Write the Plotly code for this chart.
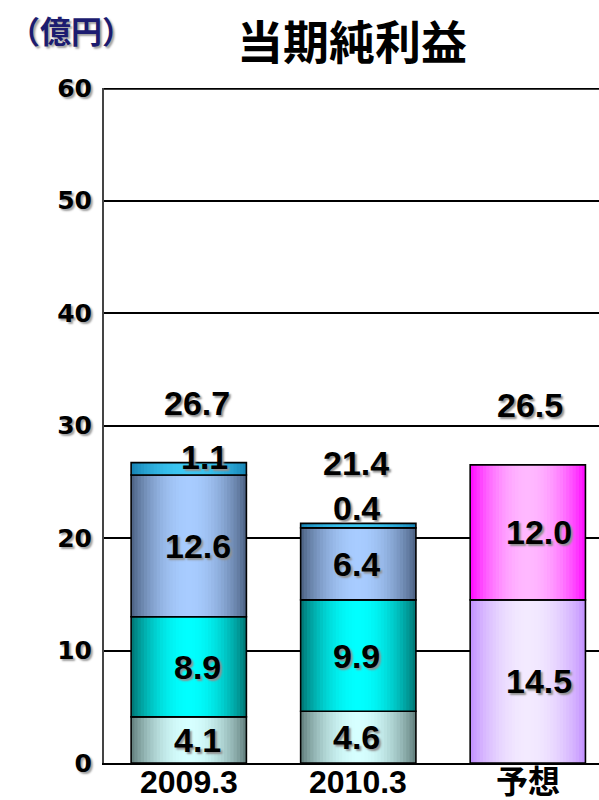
import math
import plotly.graph_objects as go

# ---- data ----
categories = ["2009.3", "2010.3", "予想"]
seg_a = [4.1, 4.6, None]      # bottom segment (actual)
seg_b = [8.9, 9.9, None]
seg_c = [12.6, 6.4, None]
seg_d = [1.1, 0.4, None]      # thin top segment (actual)
fc_lower = [None, None, 14.5]  # forecast lower
fc_upper = [None, None, 12.0]  # forecast upper
totals = [26.7, 21.4, 26.5]
total_labels = ["26.7", "21.4", "26.5"]

# ---- styles ----
segments = [
    (seg_a, "#5c7876", "#d6ffff"),
    (seg_b, "#006e6c", "#00ffff"),
    (seg_c, "#475c7c", "#a8ccff"),
    (seg_d, "#147fb0", "#3cc8f4"),
    (fc_lower, "#c08cff", "#f3eaff"),
    (fc_upper, "#ff00ff", "#ffb8ff"),
]

def hex2rgb(h):
    h = h.lstrip("#")
    return [int(h[i:i + 2], 16) for i in (0, 2, 4)]

def lerp(c1, c2, t):
    a, b = hex2rgb(c1), hex2rgb(c2)
    return "rgb(%d,%d,%d)" % tuple(round(a[i] + (b[i] - a[i]) * t) for i in range(3))

fig = go.Figure()
bar_w = 0.68
K = 36
strip_w = bar_w / K
over = 1.8

base_actual = [0.0, 0.0, 0.0]
base_fc = [0.0, 0.0, 0.0]
label_ann = []
for vals, edge, center in segments:
    is_fc = vals is fc_lower or vals is fc_upper
    cum = base_fc if is_fc else base_actual
    idx = [i for i, v in enumerate(vals) if v is not None]
    ys = [vals[i] for i in idx]
    bases = [cum[i] for i in idx]
    for k in range(K):
        u = (k + 0.5) / K
        t = math.sin(math.pi * u) ** 0.8
        left = -bar_w / 2 + k * strip_w
        w = min(strip_w * over, bar_w / 2 - left)
        fig.add_bar(
            x=[i + left + w / 2 for i in idx],
            y=ys, base=bases, width=w,
            marker=dict(color=lerp(edge, center, t), line=dict(width=0)),
            hoverinfo="skip", showlegend=False,
        )
    fig.add_bar(
        x=idx, y=ys, base=bases, width=bar_w,
        marker=dict(color="rgba(0,0,0,0)", line=dict(color="black", width=1.6)),
        hoverinfo="skip", showlegend=False,
    )
    for j, i in enumerate(idx):
        label_ann.append((i, bases[j], ys[j]))
        cum[i] += ys[j]

lab_font = dict(family="Liberation Sans, Arial, sans-serif", size=34, color="black",
                weight="bold", shadow="2px 2px 2px #909090")

# per-category horizontal shift of in-bar labels (px)
xshift_cat = [9, -2, 11]
annotations = []
for i, b, v in label_ann:
    if v < 2:
        y = b + v + 0.5 if i == 0 else b + v + 1.4
        xs = 16 if i == 0 else -2
    else:
        y = b + v / 2
        xs = xshift_cat[i]
    annotations.append(dict(x=i, y=y, xref="x", yref="y", text=f"{v:.1f}",
                            showarrow=False, font=lab_font, xshift=xs,
                            yanchor="middle"))
tot_shift = [8, -2, 2]
for i, tv in enumerate(totals):
    annotations.append(dict(x=i, y=tv + 5.3, xref="x", yref="y", text=total_labels[i],
                            showarrow=False, font=lab_font, xshift=tot_shift[i],
                            yanchor="middle"))

# title and unit label, placed by pixel position
def px_to_paper(px, py):
    return (px - 104) / 495, (763 - py) / 675

# category labels under the axis
_, cy = px_to_paper(0, 782)
for i, c in enumerate(categories):
    annotations.append(dict(x=i, y=cy, xref="x", yref="paper", text=c,
                            showarrow=False, yanchor="middle", xanchor="center",
                            font=dict(family="Liberation Sans, Noto Sans CJK JP, sans-serif",
                                      size=32, color="black", weight="bold")))

tx, ty = px_to_paper(352, 39)
annotations.append(dict(x=tx, y=ty, xref="paper", yref="paper", text="当期純利益",
                        showarrow=False, yanchor="middle", xanchor="center",
                        font=dict(family="Noto Sans CJK JP", size=46, color="black",
                                  weight="bold")))
ux, uy = px_to_paper(8, 29)
annotations.append(dict(x=ux, y=uy, xref="paper", yref="paper", text="（億円）",
                        showarrow=False, yanchor="middle", xanchor="left", borderpad=0,
                        font=dict(family="Noto Sans CJK JP", size=31, color="#1c1c70",
                                  weight="bold", shadow="2px 2px 2px #a0a0a0")))

fig.update_layout(
    width=599, height=800,
    margin=dict(l=104, r=0, t=88, b=37),
    paper_bgcolor="white", plot_bgcolor="white",
    barmode="overlay",
    annotations=annotations,
    shapes=[dict(type="line", xref="paper", yref="y", x0=0, x1=1, y0=60, y1=60,
                 line=dict(color="black", width=3.5))],
    xaxis=dict(range=[-0.5, 2.42], tickvals=[0, 1, 2], showticklabels=False,
               showline=True, linecolor="black", linewidth=2, showgrid=False,
               zeroline=False, ticks="", automargin=False),
    yaxis=dict(range=[0, 60], tickvals=[0, 10, 20, 30, 40, 50, 60],
               showgrid=True, gridcolor="black", gridwidth=2,
               showline=True, linecolor="#444444", linewidth=2, zeroline=False,
               ticks="", ticklabelstandoff=5, automargin=False,
               tickfont=dict(family="DejaVu Sans", size=25, color="black",
                             weight="bold", shadow="2px 2px 2px #a0a0a0")),
)

fig.write_html("out.html", config={"displayModeBar": False},
               post_script="document.body.style.margin='0';document.body.style.overflow='hidden';")
